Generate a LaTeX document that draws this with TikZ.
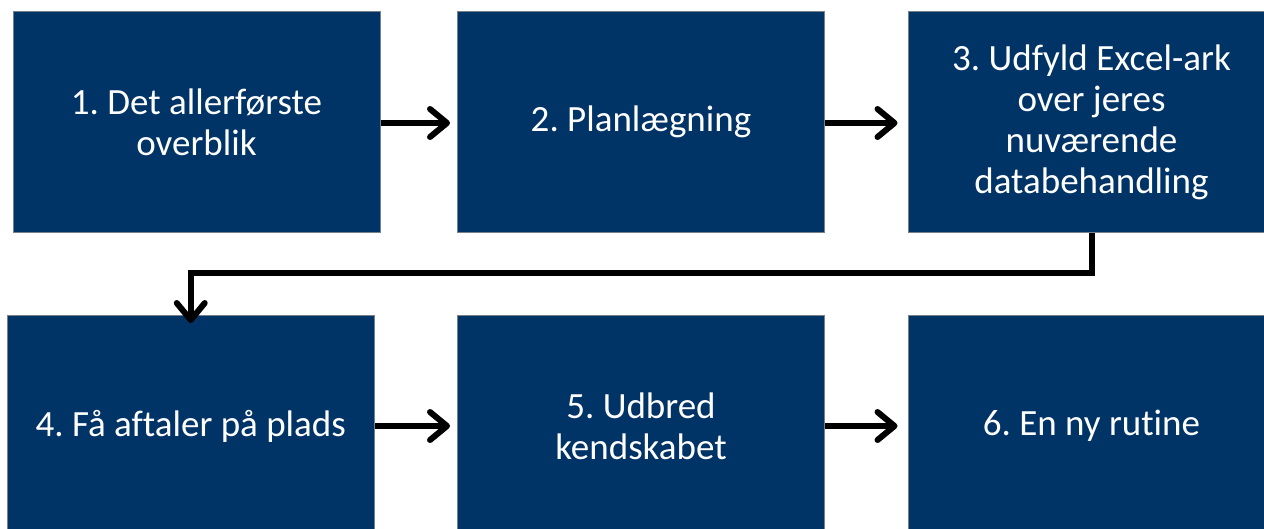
\documentclass[tikz,border=0pt]{standalone}
\usepackage{fontspec}
\setmainfont[RawFeature=-liga]{Carlito}
\usetikzlibrary{arrows.meta}
\definecolor{stepblue}{RGB}{0,51,102}
\definecolor{stepedge}{RGB}{120,128,140}
\frenchspacing
\tikzset{
  stepbox/.style={draw=stepedge, line width=1pt, fill=stepblue, text=white,
    minimum width=367pt, minimum height=221pt, inner sep=0pt,
    align=center, font=\fontsize{37}{41}\selectfont},
  flow/.style={line width=6pt, -{Straight Barb[length=17pt, width=28pt, line cap=round, line join=round]}},
}
\begin{document}
\begin{tikzpicture}[x=1pt, y=-1pt]
  \useasboundingbox (0,0) rectangle (1264,528);
  % top row
  \node[stepbox] (s1) at (196.5,122) {1. Det allerførste\\overblik};
  \node[stepbox] (s2) at (641,122) {2. Planlægning};
  \node[stepbox] (s3) at (1091.5,122) {3. Udfyld Excel-ark\\over jeres\\nuværende\\databehandling};
  % bottom row
  \node[stepbox] (s4) at (190.75,426) {4. Få aftaler på plads};
  \node[stepbox] (s5) at (641,426) {5. Udbred\\kendskabet};
  \node[stepbox] (s6) at (1091.5,426) {6. En ny rutine};
  % connectors
  \coordinate (turnR) at (s3.south |- 0,273);
  \coordinate (turnL) at (s4.north |- 0,273);
  \draw[flow] (s1.east |- 0,123) -- ([xshift=-7pt]s2.west |- 0,123);
  \draw[flow] (s2.east |- 0,123) -- ([xshift=-10pt]s3.west |- 0,123);
  \draw[flow, line join=miter] (s3.south) -- (turnR) -- (turnL) -- ([yshift=-8pt]s4.north);
  \draw[flow] (s4.east |- 0,426) -- ([xshift=-7pt]s5.west |- 0,426);
  \draw[flow] (s5.east |- 0,426) -- ([xshift=-10pt]s6.west |- 0,426);
\end{tikzpicture}
\end{document}
